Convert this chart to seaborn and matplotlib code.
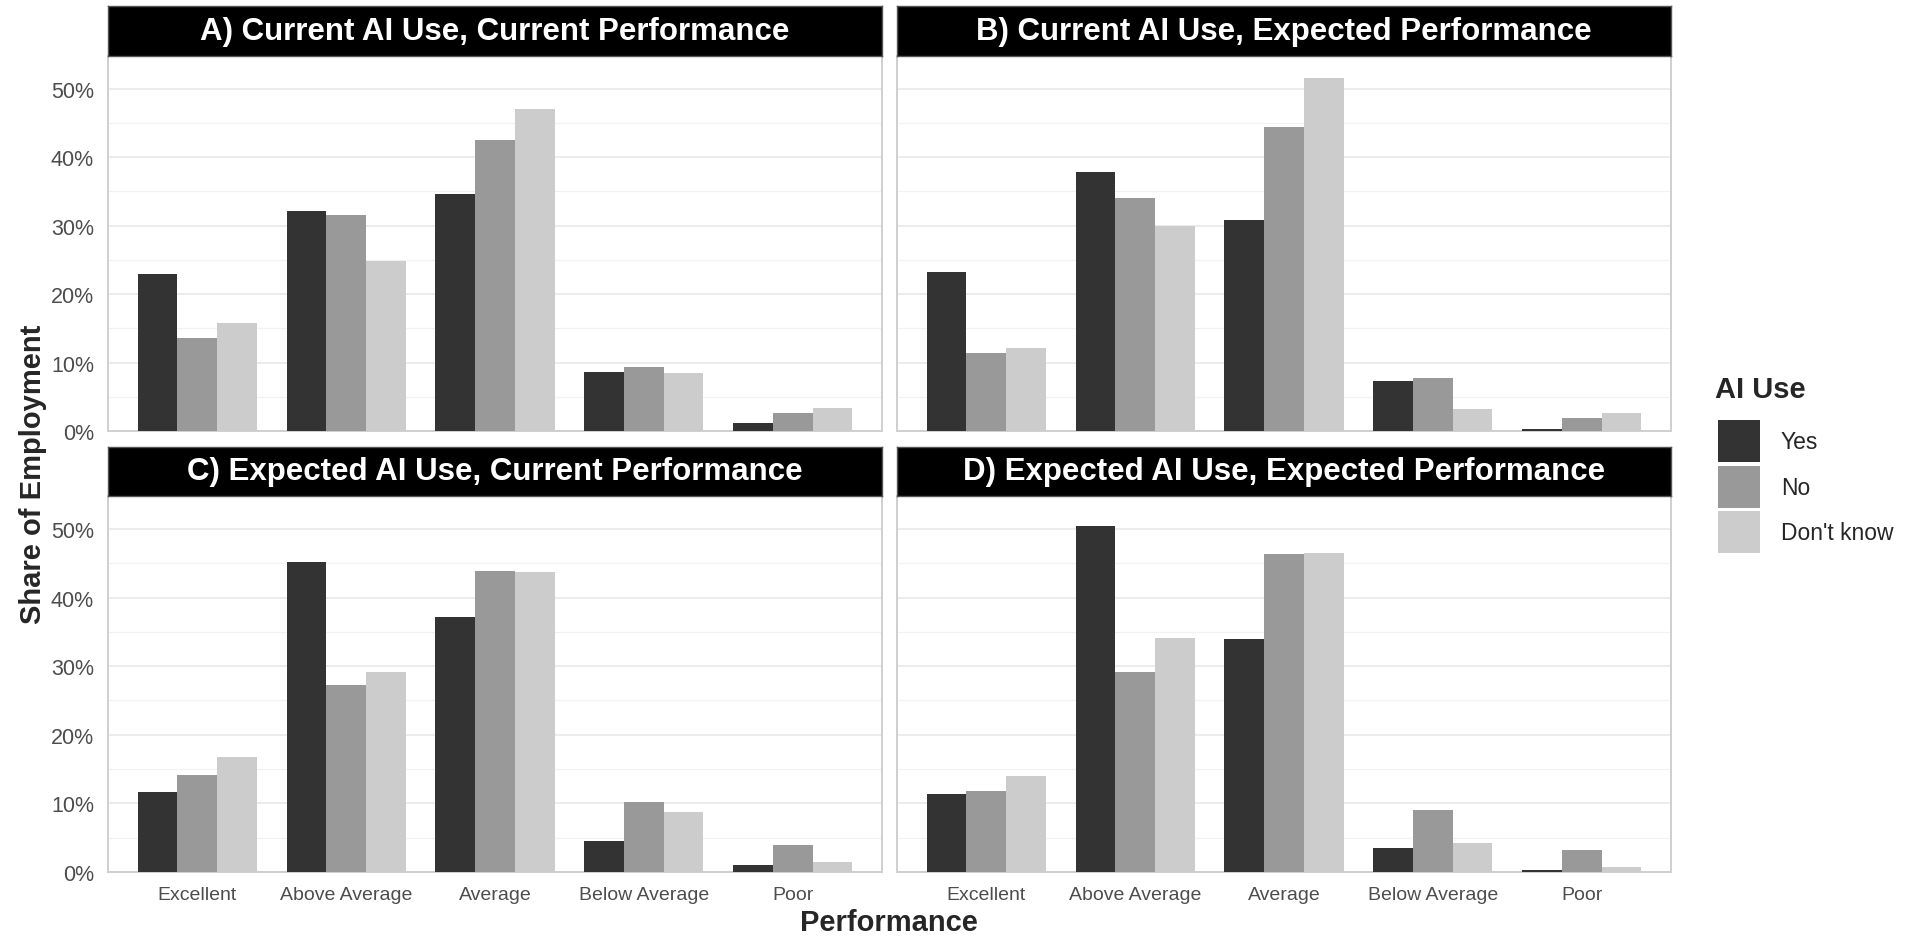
import numpy as np
import pandas as pd
import matplotlib
matplotlib.use("Agg")
import matplotlib.pyplot as plt
import matplotlib.ticker as ticker
from matplotlib.patches import Patch
import seaborn as sns

# Share of employment by performance bracket and AI use
performance = ["Excellent", "Above Average", "Average", "Below Average", "Poor"]
ai_use = ["Yes", "No", "Don't know"]
panel_titles = [
    "A) Current AI Use, Current Performance",
    "B) Current AI Use, Expected Performance",
    "C) Expected AI Use, Current Performance",
    "D) Expected AI Use, Expected Performance",
]

a_yes = [23.0, 32.2, 34.6, 8.6, 1.2]
a_no = [13.6, 31.5, 42.5, 9.3, 2.7]
a_dk = [15.8, 24.9, 47.1, 8.5, 3.3]

b_yes = [23.3, 37.8, 30.8, 7.3, 0.3]
b_no = [11.4, 34.0, 44.4, 7.8, 1.9]
b_dk = [12.2, 29.9, 51.6, 3.2, 2.6]

c_yes = [11.7, 45.2, 37.2, 4.5, 1.0]
c_no = [14.2, 27.3, 43.8, 10.2, 4.0]
c_dk = [16.7, 29.2, 43.7, 8.7, 1.4]

d_yes = [11.4, 50.5, 34.0, 3.5, 0.3]
d_no = [11.8, 29.2, 46.4, 9.0, 3.2]
d_dk = [14.0, 34.1, 46.5, 4.2, 0.7]

colors = ["#333333", "#999999", "#cccccc"]

# long table for seaborn
rows = []
for title, series in zip(panel_titles, [(a_yes, a_no, a_dk), (b_yes, b_no, b_dk),
                                        (c_yes, c_no, c_dk), (d_yes, d_no, d_dk)]):
    for use, vals in zip(ai_use, series):
        for perf, v in zip(performance, vals):
            rows.append({"Panel": title, "Performance": perf, "AI Use": use, "Share": v / 100})
df = pd.DataFrame(rows)

sns.set_style("white")
plt.rcParams["font.family"] = ["Liberation Sans", "DejaVu Sans"]

W, H = 1911, 937
fig = plt.figure(figsize=(W / 100, H / 100), dpi=100)

border = "#cfcfcf"
grid = "#ebebeb"
tickcol = "#4d4d4d"

# panel boxes in pixels: (left, right, strip_top, strip_bottom, panel_bottom)
boxes = [
    (108, 882, 7, 57, 432),
    (897, 1671, 7, 57, 432),
    (108, 882, 448, 497, 873),
    (897, 1671, 448, 497, 873),
]

for i, (title, (x0, x1, s0, s1, p1)) in enumerate(zip(panel_titles, boxes)):
    ax = fig.add_axes([x0 / W, 1 - p1 / H, (x1 - x0) / W, (p1 - s1) / H])
    sub = df[df["Panel"] == title]
    sns.barplot(data=sub, x="Performance", y="Share", hue="AI Use",
                order=performance, hue_order=ai_use, palette=colors,
                saturation=1, width=0.8, gap=0, legend=False, ax=ax,
                errorbar=None, linewidth=0, zorder=3)
    ax.set_xlim(-0.6, 4.6)
    ax.set_ylim(0, 0.548)
    ax.yaxis.set_major_locator(ticker.MultipleLocator(0.1))
    ax.yaxis.set_minor_locator(ticker.MultipleLocator(0.05))
    ax.yaxis.set_major_formatter(ticker.PercentFormatter(xmax=1, decimals=0))
    ax.grid(axis="y", which="major", color=grid, linewidth=1.3, zorder=0)
    ax.grid(axis="y", which="minor", color="#f2f2f2", linewidth=0.9, zorder=0)
    ax.grid(axis="x", visible=False)
    ax.set_axisbelow(True)
    for sp in ax.spines.values():
        sp.set_visible(True)
        sp.set_color(border)
        sp.set_linewidth(1.4)
    ax.set_xlabel("")
    ax.set_ylabel("")
    ax.tick_params(axis="both", which="major", colors=border, labelcolor=tickcol,
                   length=6, width=1.2, labelsize=14)
    ax.tick_params(axis="y", which="minor", length=0)
    ax.tick_params(axis="x", pad=4)
    ax.tick_params(axis="y", pad=4, labelsize=15.5)
    if i % 2 == 1:
        ax.tick_params(axis="y", which="both", left=False, labelleft=False)
    if i < 2:
        ax.tick_params(axis="x", bottom=False, labelbottom=False)

    # black facet strip
    sax = fig.add_axes([x0 / W, 1 - s1 / H, (x1 - x0) / W, (s1 - s0) / H])
    sax.set_facecolor("black")
    sax.set_xticks([])
    sax.set_yticks([])
    for sp in sax.spines.values():
        sp.set_color("#555555")
        sp.set_linewidth(1)
    sax.text(0.5, 0.5, title, color="white", fontsize=22.5, fontweight="bold",
             ha="center", va="center", transform=sax.transAxes)

fig.text(889 / W, 1 - 923 / H, "Performance", ha="center", va="center",
         fontsize=21, fontweight="bold")
fig.text(33 / W, 1 - 474 / H, "Share of Employment", ha="center", va="center",
         rotation=90, fontsize=21, fontweight="bold")

# legend: title drawn separately so the gap to the keys matches
fig.text(1715 / W, 1 - 390 / H, "AI Use", ha="left", va="center",
         fontsize=21, fontweight="bold")
handles = [Patch(facecolor=c, edgecolor="none", label=l) for c, l in zip(colors, ai_use)]
leg = fig.legend(handles=handles, loc="upper left",
                 bbox_to_anchor=(1709 / W, 1 - 412 / H), frameon=False,
                 fontsize=16.5, handlelength=1.83, handleheight=2.44,
                 labelspacing=0.16, handletextpad=0.9, borderaxespad=0,
                 borderpad=0.4)

fig.savefig("out.png", dpi=100)
